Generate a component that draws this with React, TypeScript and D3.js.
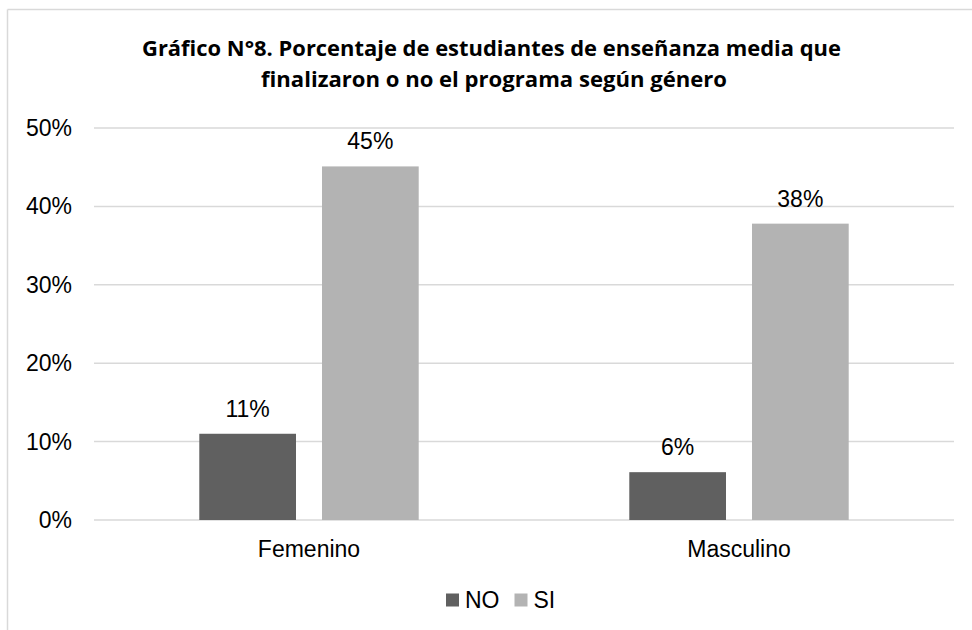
import React from "react";
import * as d3 from "d3";

const categories = ["Femenino", "Masculino"];
const seriesNames = ["NO", "SI"];
const noValues = [0.11, 0.061];
const siValues = [0.451, 0.378];
const labelsNo = ["11%", "6%"];
const labelsSi = ["45%", "38%"];
const yTicks = [0, 0.1, 0.2, 0.3, 0.4, 0.5];
const titleLines = [
  "Gráfico N°8. Porcentaje de estudiantes de enseñanza media que",
  "finalizaron o no el programa según género",
];

const W = 972;
const H = 630;
const colors = ["#606060", "#b3b3b3"];

export default function App() {
  const x0 = d3.scaleBand().domain(categories).range([94, 954]).paddingInner(0).paddingOuter(0);
  const x1 = d3
    .scaleBand()
    .domain(seriesNames)
    .range([0, x0.bandwidth()])
    .paddingInner(0.212)
    .paddingOuter(0.858);
  const y = d3.scaleLinear().domain([0, 0.5]).range([520, 128]);
  const fmt = d3.format(".0%");
  const series = [noValues, siValues];
  const labels = [labelsNo, labelsSi];
  const font = "'Liberation Sans', Arial, sans-serif";

  return (
    <svg
      width={W}
      height={H}
      style={{ position: "absolute", left: 0, top: 0, display: "block", background: "#fff" }}
    >
      <rect x={0} y={0} width={W} height={H} fill="#fff" />
      <line x1={7.5} x2={W} y1={9.5} y2={9.5} stroke="#d9d9d9" strokeWidth={1.5} />
      <line x1={7.5} x2={7.5} y1={9.5} y2={H} stroke="#d9d9d9" strokeWidth={1.5} />

      <text
        x={491.5}
        y={56}
        textAnchor="middle"
        fontFamily="'Open Sans', sans-serif"
        fontWeight="bold"
        fontSize={21}
        textLength={699}
        lengthAdjust="spacingAndGlyphs"
        fill="#000"
      >
        {titleLines[0]}
      </text>
      <text
        x={494}
        y={87}
        textAnchor="middle"
        fontFamily="'Open Sans', sans-serif"
        fontWeight="bold"
        fontSize={21}
        textLength={466}
        lengthAdjust="spacingAndGlyphs"
        fill="#000"
      >
        {titleLines[1]}
      </text>

      {yTicks.map((t) => (
        <g key={t}>
          <line x1={94} x2={954} y1={y(t)} y2={y(t)} stroke="#d9d9d9" strokeWidth={1.5} />
          <text
            x={72}
            y={y(t) + 8}
            textAnchor="end"
            fontFamily={font}
            fontSize={23}
            fill="#000"
          >
            {fmt(t)}
          </text>
        </g>
      ))}

      {categories.map((c, i) => (
        <g key={c}>
          {seriesNames.map((s, j) => {
            const bx = (x0(c) as number) + (x1(s) as number);
            const v = series[j][i];
            return (
              <g key={s}>
                <rect
                  x={bx}
                  y={y(v)}
                  width={x1.bandwidth()}
                  height={y(0) - y(v)}
                  fill={colors[j]}
                />
                <text
                  x={bx + x1.bandwidth() / 2}
                  y={y(v) - 17}
                  textAnchor="middle"
                  fontFamily={font}
                  fontSize={23}
                  fill="#000"
                >
                  {labels[j][i]}
                </text>
              </g>
            );
          })}
          <text
            x={(x0(c) as number) + x0.bandwidth() / 2}
            y={557}
            textAnchor="middle"
            fontFamily={font}
            fontSize={23}
            fill="#000"
          >
            {c}
          </text>
        </g>
      ))}

      {seriesNames.map((s, j) => {
        const lx = j === 0 ? 446 : 514.5;
        return (
          <g key={s}>
            <rect x={lx} y={593.5} width={13} height={13} fill={colors[j]} />
            <text x={lx + 19} y={607.5} fontFamily={font} fontSize={23} fill="#000">
              {s}
            </text>
          </g>
        );
      })}
    </svg>
  );
}
